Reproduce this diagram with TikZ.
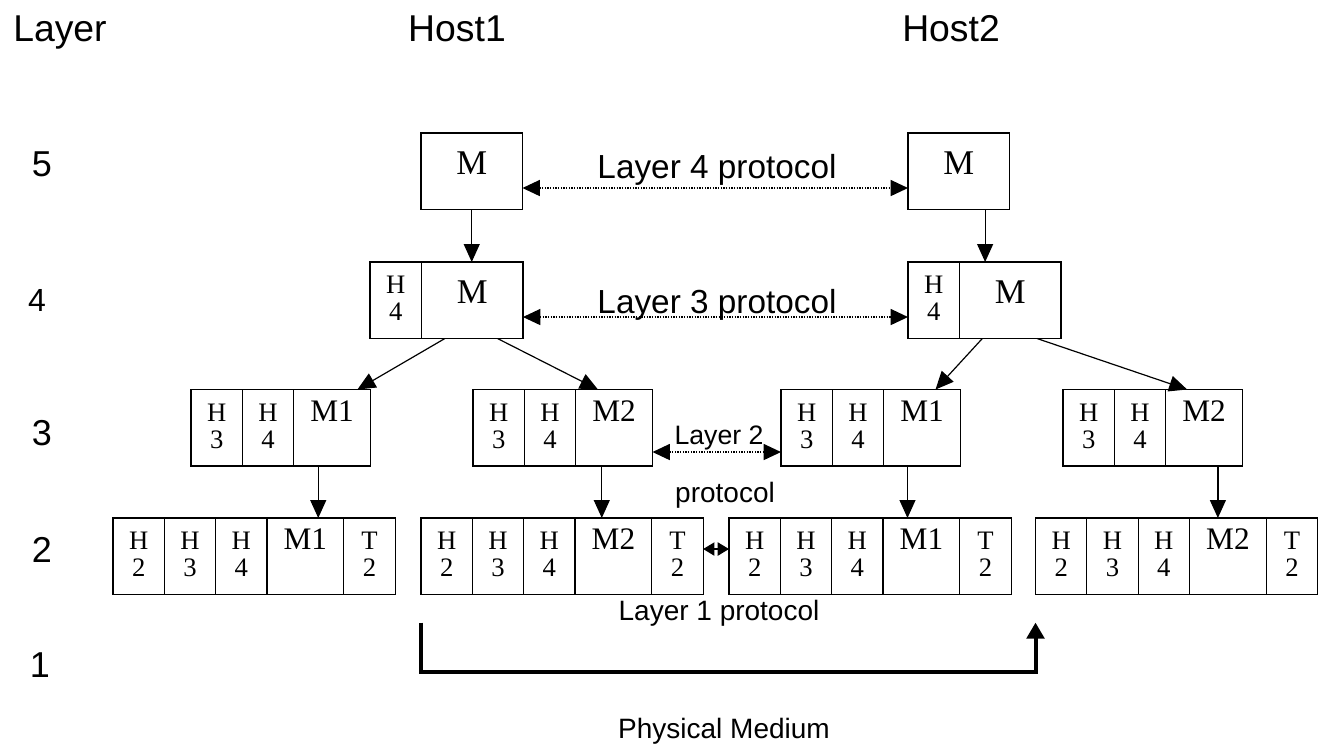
\documentclass[tikz,border=0pt]{standalone}
\usepackage{fontspec}
\setmainfont{Liberation Serif}
\newfontfamily\arialf{Liberation Sans}
\usetikzlibrary{arrows.meta,calc}
\tikzset{
  cell/.style={draw, line width=0.9pt, outer sep=0pt, inner sep=0pt, minimum height=57.4pt,
    anchor=north west, align=center, text height=31pt, text depth=0pt,
    font=\fontsize{20}{20.25}\selectfont},
  hc/.style={cell, minimum width=38.5pt},
  mc/.style={cell, minimum width=57.6pt, font=\fontsize{23.5}{20.25}\selectfont},
  tc/.style={cell, minimum width=38.5pt},
  hfour/.style={cell, minimum width=38.6pt},
  bigc/.style={cell, minimum width=76.1pt, text height=17pt, text depth=12pt,
    font=\fontsize{26}{26}\selectfont},
  arr/.style={line width=0.9pt, -{Triangle[length=13.5pt,width=12pt]}},
  proto/.style={line width=1pt, densely dotted,
    {Triangle[length=13pt,width=12pt]}-{Triangle[length=13pt,width=12pt]}},
  sans/.style={font=\arialf\fontsize{#1}{#1}\selectfont, inner sep=0pt, anchor=base},
}
\begin{document}
\begin{tikzpicture}[x=0.75pt,y=-0.75pt]
\useasboundingbox (0,0) rectangle (1319,744);

% headings
\node[sans=28] (tlayer) at (60,41) {Layer};
\node[sans=28] (thost1) at (457,41) {Host1};
\node[sans=28] (thost2) at (951,41) {Host2};
\node[sans=27] (n5) at (42,176) {5};
\node[sans=24] (n4) at (37,311) {4};
\node[sans=27] (n3) at (42,445) {3};
\node[sans=27] (n2) at (42,562) {2};
\node[sans=27] (n1) at (40,677) {1};

% layer 5
\node[bigc] (a5) at (421,133) {M};
\node[bigc] (b5) at (908,133) {M};

% layer 4
\node[hfour] (a4h) at (370,262) {H\\4};
\node[bigc] (a4m) at (a4h.north east) {M};
\node[hfour] (b4h) at (908,262) {H\\4};
\node[bigc] (b4m) at (b4h.north east) {M};

% layer 3
\node[hc] (p3a) at (191,389.5) {H\\3};
\node[hc] (p3b) at (p3a.north east) {H\\4};
\node[mc] (p3m) at (p3b.north east) {M1\\\phantom{1}};
\node[hc] (q3a) at (473,389.5) {H\\3};
\node[hc] (q3b) at (q3a.north east) {H\\4};
\node[mc] (q3m) at (q3b.north east) {M2\\\phantom{1}};
\node[hc] (r3a) at (781,389.5) {H\\3};
\node[hc] (r3b) at (r3a.north east) {H\\4};
\node[mc] (r3m) at (r3b.north east) {M1\\\phantom{1}};
\node[hc] (s3a) at (1063,389.5) {H\\3};
\node[hc] (s3b) at (s3a.north east) {H\\4};
\node[mc] (s3m) at (s3b.north east) {M2\\\phantom{1}};

% layer 2
\node[hc] (p2a) at (113,518) {H\\2};
\node[hc] (p2b) at (p2a.north east) {H\\3};
\node[hc] (p2c) at (p2b.north east) {H\\4};
\node[mc] (p2m) at (p2c.north east) {M1\\\phantom{1}};
\node[tc] (p2t) at (p2m.north east) {T\\2};
\node[hc] (q2a) at (421,518) {H\\2};
\node[hc] (q2b) at (q2a.north east) {H\\3};
\node[hc] (q2c) at (q2b.north east) {H\\4};
\node[mc] (q2m) at (q2c.north east) {M2\\\phantom{1}};
\node[tc] (q2t) at (q2m.north east) {T\\2};
\node[hc] (r2a) at (729,518) {H\\2};
\node[hc] (r2b) at (r2a.north east) {H\\3};
\node[hc] (r2c) at (r2b.north east) {H\\4};
\node[mc] (r2m) at (r2c.north east) {M1\\\phantom{1}};
\node[tc] (r2t) at (r2m.north east) {T\\2};
\node[hc] (s2a) at (1035.5,518) {H\\2};
\node[hc] (s2b) at (s2a.north east) {H\\3};
\node[hc] (s2c) at (s2b.north east) {H\\4};
\node[mc] (s2m) at (s2c.north east) {M2\\\phantom{1}};
\node[tc] (s2t) at (s2m.north east) {T\\2};

% layer 5 -> 4
\draw[arr] (a5.south) -- (a5.south |- a4m.north);
\coordinate (b5o) at ($(b5.south west)!0.76!(b5.south east)$);
\draw[arr] (b5o) -- (b5o |- b4m.north);

% layer 4 -> 3
\coordinate (a4o1) at ($(a4m.south west)!0.23!(a4m.south east)$);
\coordinate (a4o2) at ($(a4m.south west)!0.75!(a4m.south east)$);
\coordinate (p3i) at ($(p3m.north west)!0.83!(p3m.north east)$);
\coordinate (q3i) at ($(q3m.north west)!0.29!(q3m.north east)$);
\draw[arr] (a4o1) -- (p3i);
\draw[arr] (a4o2) -- (q3i);
\coordinate (b4o1) at ($(b4m.south west)!0.225!(b4m.south east)$);
\coordinate (b4o2) at ($(b4m.south west)!0.765!(b4m.south east)$);
\coordinate (r3i) at ($(r3m.north west)!0.675!(r3m.north east)$);
\coordinate (s3i) at ($(s3m.north west)!0.28!(s3m.north east)$);
\draw[arr] (b4o1) -- (r3i);
\draw[arr] (b4o2) -- (s3i);

% layer 3 -> 2
\coordinate (p3o) at ($(p3m.south west)!0.32!(p3m.south east)$);
\coordinate (q3o) at ($(q3m.south west)!0.34!(q3m.south east)$);
\coordinate (r3o) at ($(r3m.south west)!0.31!(r3m.south east)$);
\coordinate (s3o) at ($(s3m.south west)!0.68!(s3m.south east)$);
\draw[arr] (p3o) -- (p3o |- p2m.north);
\draw[arr] (q3o) -- (q3o |- q2m.north);
\draw[arr] (r3o) -- (r3o |- r2m.north);
\draw[arr] (s3o) -- (s3o |- s2m.north);

% protocols
\draw[proto] ($(a5.east)+(0,16.75)$) -- ($(b5.west)+(0,16.75)$);
\draw[proto] ($(a4m.east)+(0,16.75)$) -- ($(b4h.west)+(0,16.75)$);
\draw[proto] ($(q3m.east)+(0,24.25)$) -- ($(r3a.west)+(0,24.25)$);
\draw[line width=0.9pt, {Triangle[length=8.5pt,width=10pt]}-{Triangle[length=8.5pt,width=10pt]}]
  ($(q2t.east)+(0,-7.25)$) -- ($(r2a.west)+(0,-7.25)$);

\node[sans=25] (l4p) at (717,178) {Layer 4 protocol};
\node[sans=25] (l3p) at (717,313) {Layer 3 protocol};
\node[sans=20] (l2p) at (719,444) {Layer 2};
\node[sans=21] (l2q) at (725,502) {protocol};
\node[sans=21] (l1p) at (719,620) {Layer 1 protocol};
\node[sans=21] (phy) at (724,738) {Physical Medium};

% physical medium
\coordinate (pmA) at ($(q2a.south west)+(0,28)$);
\coordinate (pmB) at ($(s2a.south west)+(0,28)$);
\draw[line width=3pt, line join=miter, -{Triangle[length=12pt,width=13pt]}]
  (pmA) -- ++(0,49) -| (pmB);
\end{tikzpicture}
\end{document}
